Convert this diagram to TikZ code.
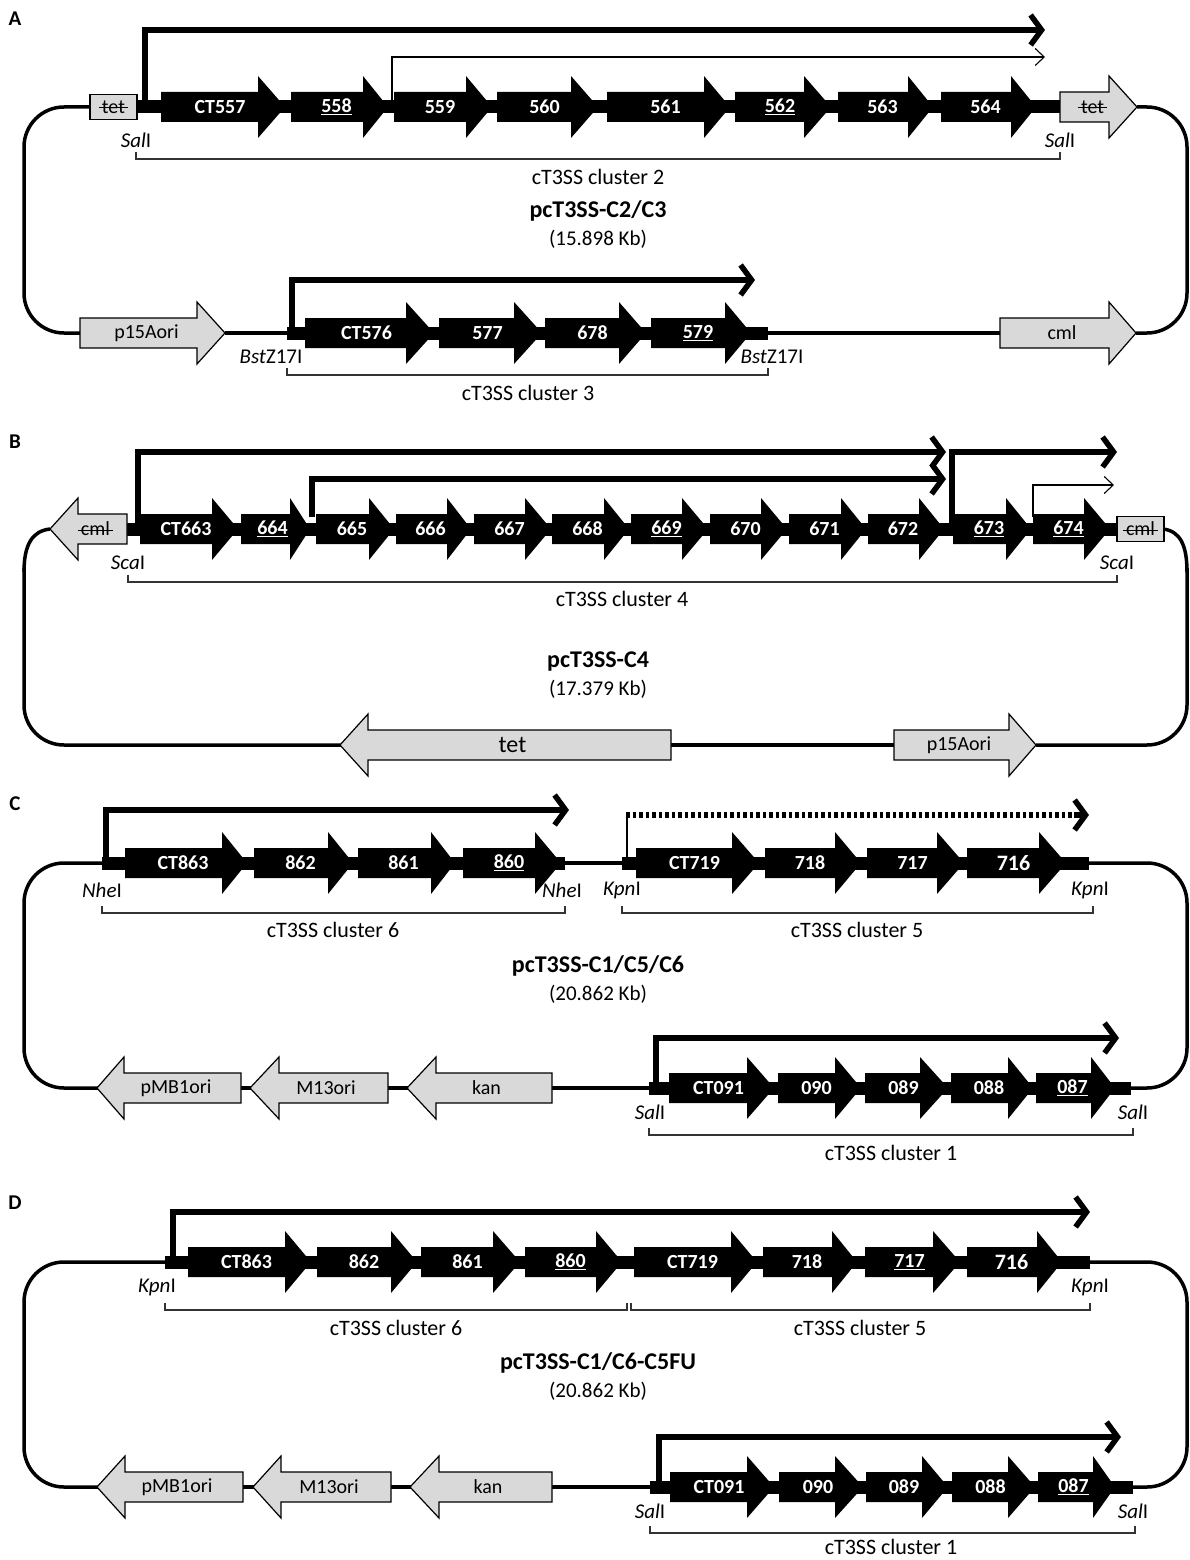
\documentclass[tikz,border=0pt]{standalone}
\usepackage{fontspec}
\setmainfont{Carlito}
\usetikzlibrary{arrows.meta}
\definecolor{gfill}{RGB}{217,217,217}
\newcommand\xstrike[1]{\setbox0\hbox{#1}\rlap{\hskip-3pt\rule[0.25em]{\dimexpr\wd0+6pt\relax}{1.3pt}}\box0}
\tikzset{
  genelbl/.style={text=white, font=\bfseries\fontsize{20}{22}\selectfont, inner sep=0pt},
  biglbl/.style={text=white, font=\bfseries\fontsize{22}{24}\selectfont, inner sep=0pt},
  graylbl/.style={font=\fontsize{20}{22}\selectfont, inner sep=0pt},
  grayarr/.style={fill=gfill, draw=black, line width=1.2pt, line join=miter},
  site/.style={font=\fontsize{21}{23}\selectfont, inner sep=0pt},
  clus/.style={font=\fontsize{22}{24}\selectfont, inner sep=0pt},
  ttl/.style={font=\bfseries\fontsize{24}{26}\selectfont, inner sep=0pt},
  kb/.style={font=\fontsize{21}{23}\selectfont, inner sep=0pt},
  panel/.style={font=\bfseries\fontsize{21}{23}\selectfont, inner sep=0pt},
  bb/.style={line width=3.5pt, rounded corners=40pt},
  prom/.style={line width=5.5pt, line join=miter, -{Straight Barb[length=11pt,width=30pt]}},
  thinprom/.style={line width=1.1pt, -{Straight Barb[length=9pt,width=17pt]}},
  brk/.style={line width=1.3pt, draw=black!80},
  strbox/.style={draw=black, fill=gfill, line width=1.2pt, minimum height=25pt, inner sep=0pt, font=\fontsize{20}{22}\selectfont},
}
% gene: name, body start, head start, tip, y, label
\newcommand\gene[6]{%
  \fill[black] (#2,#5-15) -- (#3,#5-15) -- (#3,#5-31) -- (#4,#5) -- (#3,#5+31) -- (#3,#5+15) -- (#2,#5+15) -- cycle;
  \node[genelbl] (#1) at ({(#2+#4)/2-3},#5) {#6};}
\newcommand\geneB[6]{%
  \fill[black] (#2,#5-15) -- (#3,#5-15) -- (#3,#5-31) -- (#4,#5) -- (#3,#5+31) -- (#3,#5+15) -- (#2,#5+15) -- cycle;
  \node[biglbl] (#1) at ({(#2+#4)/2-3},#5) {#6};}
% gray right arrow: name, body start, head start, tip, y, label
\newcommand\grayR[6]{%
  \filldraw[grayarr] (#2,#5-15) -- (#3,#5-15) -- (#3,#5-31) -- (#4,#5) -- (#3,#5+31) -- (#3,#5+15) -- (#2,#5+15) -- cycle;
  \node[graylbl] (#1) at ({(#2+#4)/2-6},#5) {#6};}
% gray left arrow: name, tip, head base, right end, y, label
\newcommand\grayL[6]{%
  \filldraw[grayarr] (#4,#5-15) -- (#3,#5-15) -- (#3,#5-31) -- (#2,#5) -- (#3,#5+31) -- (#3,#5+15) -- (#4,#5+15) -- cycle;
  \node[graylbl] (#1) at ({(#2+#4)/2+7},#5) {#6};}
\newcommand\insbar{}
\renewcommand\insbar[3]{\fill[black] (#1,#3-6.5) rectangle (#2,#3+6.5);}
\newcommand\bracketline[3]{\draw[brk] (#1,#3-7) -- (#1,#3) -- (#2,#3) -- (#2,#3-7);}
\begin{document}
\begin{tikzpicture}[x=1pt,y=-1pt]
\useasboundingbox[fill=white] (0,0) rectangle (1190,1560);

%%%%%%%%%%%%%%%% PANEL A
\node[panel] (lA) at (15,19) {A};
\draw[bb] (92,107) -- (24,107) -- (24,333) -- (82,333);
\draw[bb] (225,333) -- (289,333);
\draw[bb] (766,333) -- (1002,333);
\draw[bb] (1136,333) -- (1187,333) -- (1187,107) -- (1137,107);
\insbar{137}{1060}{107}
\insbar{287}{768}{333}
\draw[prom] (145,107) -- (145,30) -- (1045,30);
\draw[thinprom] (392,100) -- (392,57) -- (1045,57);
\draw[prom] (292,333) -- (292,280) -- (755,280);
\gene{a1}{161}{258}{285}{107}{CT557}
\gene{a2}{291}{363}{388}{107}{\underline{558}}
\gene{a3}{394}{466}{492}{107}{559}
\gene{a4}{497}{571}{598}{107}{560}
\gene{a5}{607}{704}{730}{107}{561}
\gene{a6}{735}{804}{831}{107}{\underline{562}}
\gene{a7}{838}{908}{933}{107}{563}
\gene{a8}{941}{1011}{1036}{107}{564}
\node[strbox, minimum width=47pt] (tetA1) at (113.5,107) {\xstrike{tet}};
\grayR{tetA2}{1060}{1109}{1137}{107}{\xstrike{tet}}
\gene{a9}{305}{406}{434}{333}{CT576}
\gene{a10}{439}{514}{542}{333}{577}
\gene{a11}{545}{619}{646}{333}{678}
\gene{a12}{651}{725}{751}{333}{\underline{579}}
\grayR{p15A}{80}{197}{225}{333}{p15Aori}
\grayR{cmlA}{1000}{1109}{1136}{333}{cml}
\node[site] (sA1) at (136,140) {\textit{Sal}I};
\node[site] (sA2) at (1060,140) {\textit{Sal}I};
\bracketline{136}{1060}{159}
\node[clus] (cA2) at (598,177) {cT3SS cluster 2};
\node[ttl] (tA) at (598,211) {pcT3SS-C2/C3};
\node[kb] (kA) at (598,239) {(15.898 Kb)};
\node[site] (sA3) at (271,357) {\textit{Bst}Z17I};
\node[site] (sA4) at (772,357) {\textit{Bst}Z17I};
\bracketline{287}{768}{375}
\node[clus] (cA3) at (528,393) {cT3SS cluster 3};

%%%%%%%%%%%%%%%% PANEL B
\node[panel] (lB) at (15,442) {B};
\draw[bb] (50,529) .. controls (32,531) and (24,545) .. (24,572);
\draw[bb] (24,568) -- (24,745) -- (342,745);
\draw[bb] (669,745) -- (896,745);
\draw[bb] (1036,745) -- (1187,745) -- (1187,568);
\draw[bb] (1187,572) .. controls (1187,545) and (1180,531) .. (1163,529);
\insbar{125}{1117}{529}
\draw[prom] (138,529) -- (138,452) -- (946,452);
\draw[prom] (312,517) -- (312,479) -- (946,479);
\draw[prom] (952,529) -- (952,452) -- (1117,452);
\draw[thinprom] (1033,517) -- (1033,485) -- (1114,485);
\gene{b1}{140}{212}{238}{529}{CT663}
\gene{b2}{241}{290}{310}{529}{\underline{664}}
\gene{b3}{316}{369}{394}{529}{665}
\gene{b4}{396}{447}{471}{529}{666}
\gene{b5}{474}{525}{551}{529}{667}
\gene{b6}{552}{604}{629}{529}{668}
\gene{b7}{631}{682}{708}{529}{\underline{669}}
\gene{b8}{710}{761}{787}{529}{670}
\gene{b9}{789}{841}{866}{529}{671}
\gene{b10}{868}{919}{944}{529}{672}
\gene{b11}{953}{1006}{1031}{529}{\underline{673}}
\gene{b12}{1033}{1084}{1110}{529}{\underline{674}}
\grayL{cmlB1}{50}{78}{127}{529}{\xstrike{cml}}
\node[strbox, minimum width=47pt] (cmlB2) at (1140.5,529) {\xstrike{cml}};
\node[site] (sB1) at (128,563) {\textit{Sca}I};
\node[site] (sB2) at (1117,563) {\textit{Sca}I};
\bracketline{128}{1117}{582}
\node[clus] (cB4) at (622,599) {cT3SS cluster 4};
\node[ttl] (tB) at (598,662) {pcT3SS-C4};
\node[kb] (kB) at (598,689) {(17.379 Kb)};
\grayL{tetB}{340}{368}{671}{745}{\fontsize{24}{26}\selectfont tet}
\grayR{p15B}{894}{1009}{1036}{745}{p15Aori}

%%%%%%%%%%%%%%%% PANEL C
\node[panel] (lC) at (15,804) {C};
\draw[bb] (104,863) -- (24,863) -- (24,1088) -- (99,1088);
\draw[bb] (241,1088) -- (252,1088);
\draw[bb] (388,1088) -- (409,1088);
\draw[bb] (552,1088) -- (651,1088);
\draw[bb] (563,863) -- (624,863);
\draw[bb] (1129,1088) -- (1187,1088) -- (1187,863) -- (1087,863);
\insbar{102}{565}{863}
\insbar{622}{1089}{863}
\draw[prom] (106,863) -- (106,810) -- (569,810);
\draw[line width=2.5pt] (627,863) -- (627,814);
\draw[line width=5.5pt, dash pattern=on 3.5pt off 3pt] (626,815) -- (1076,815);
\draw[prom] (1074,815) -- (1089,815);
\gene{c1}{125}{222}{247}{863}{CT863}
\gene{c2}{254}{328}{353}{863}{862}
\gene{c3}{358}{431}{455}{863}{861}
\gene{c4}{463}{535}{561}{863}{\underline{860}}
\gene{c5}{636}{732}{759}{863}{CT719}
\gene{c6}{765}{835}{861}{863}{718}
\gene{c7}{867}{937}{964}{863}{717}
\geneB{c8}{967}{1039}{1066}{863}{716}
\node[site] (sC1) at (102,890) {\textit{Nhe}I};
\node[site] (sC2) at (562,890) {\textit{Nhe}I};
\node[site] (sC3) at (622,890) {\textit{Kpn}I};
\node[site] (sC4) at (1090,890) {\textit{Kpn}I};
\bracketline{102}{565}{913}
\bracketline{622}{1093}{913}
\node[clus] (cC6) at (333,930) {cT3SS cluster 6};
\node[clus] (cC5) at (857,930) {cT3SS cluster 5};
\node[ttl] (tC) at (598,966) {pcT3SS-C1/C5/C6};
\node[kb] (kC) at (598,994) {(20.862 Kb)};
\insbar{649}{1131}{1088}
\draw[prom] (656,1088) -- (656,1038) -- (1119,1038);
\gene{c9}{669}{747}{774}{1088}{CT091}
\gene{c10}{778}{835}{861}{1088}{090}
\gene{c11}{865}{920}{948}{1088}{089}
\gene{c12}{951}{1008}{1033}{1088}{088}
\gene{c13}{1036}{1091}{1115}{1088}{\underline{087}}
\grayL{pmbC}{97}{124}{241}{1088}{pMB1ori}
\grayL{m13C}{250}{279}{388}{1088}{M13ori}
\grayL{kanC}{407}{436}{552}{1088}{kan}
\node[site] (sC5) at (650,1112) {\textit{Sal}I};
\node[site] (sC6) at (1133,1112) {\textit{Sal}I};
\bracketline{649}{1133}{1135}
\node[clus] (cC1) at (891,1153) {cT3SS cluster 1};

%%%%%%%%%%%%%%%% PANEL D
\node[panel] (lD) at (15,1203) {D};
\draw[bb] (167,1262) -- (24,1262) -- (24,1487) -- (99,1487);
\draw[bb] (243,1487) -- (255,1487);
\draw[bb] (391,1487) -- (412,1487);
\draw[bb] (552,1487) -- (652,1487);
\draw[bb] (1131,1487) -- (1187,1487) -- (1187,1262) -- (1088,1262);
\insbar{165}{1090}{1262}
\draw[prom] (173,1262) -- (173,1212) -- (1090,1212);
\gene{d1}{188}{285}{311}{1262}{CT863}
\gene{d2}{317}{391}{417}{1262}{862}
\gene{d3}{421}{493}{520}{1262}{861}
\gene{d4}{525}{596}{622}{1262}{\underline{860}}
\gene{d5}{634}{731}{757}{1262}{CT719}
\gene{d6}{763}{832}{857}{1262}{718}
\gene{d7}{865}{933}{960}{1262}{\underline{717}}
\geneB{d8}{967}{1037}{1062}{1262}{716}
\node[site] (sD1) at (157,1287) {\textit{Kpn}I};
\node[site] (sD2) at (1090,1287) {\textit{Kpn}I};
\bracketline{165}{627}{1310}
\bracketline{631}{1090}{1310}
\node[clus] (cD6) at (396,1328) {cT3SS cluster 6};
\node[clus] (cD5) at (860,1328) {cT3SS cluster 5};
\node[ttl] (tD) at (598,1363) {pcT3SS-C1/C6-C5FU};
\node[kb] (kD) at (598,1391) {(20.862 Kb)};
\insbar{650}{1133}{1487}
\draw[prom] (659,1487) -- (659,1437) -- (1121,1437);
\gene{d9}{670}{747}{774}{1487}{CT091}
\gene{d10}{779}{835}{863}{1487}{090}
\gene{d11}{866}{922}{948}{1487}{089}
\gene{d12}{952}{1008}{1035}{1487}{088}
\gene{d13}{1038}{1093}{1115}{1487}{\underline{087}}
\grayL{pmbD}{97}{125}{243}{1487}{pMB1ori}
\grayL{m13D}{253}{281}{391}{1487}{M13ori}
\grayL{kanD}{410}{439}{552}{1487}{kan}
\node[site] (sD3) at (650,1511) {\textit{Sal}I};
\node[site] (sD4) at (1133,1511) {\textit{Sal}I};
\bracketline{650}{1135}{1533}
\node[clus] (cD1) at (891,1547) {cT3SS cluster 1};
\end{tikzpicture}
\end{document}
